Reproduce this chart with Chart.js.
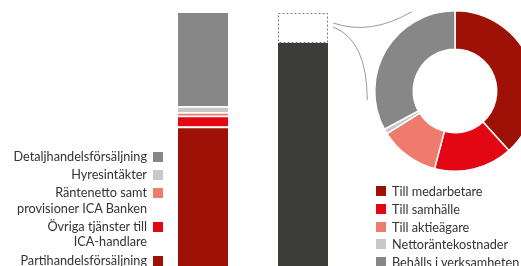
<!DOCTYPE html>
<html>
<head>
<meta charset="utf-8">
<script src="https://cdn.jsdelivr.net/npm/chart.js@4/dist/chart.umd.min.js"></script>
<style>
  html, body { margin: 0; padding: 0; background: #fff; }
  body { width: 521px; height: 266px; overflow: hidden; position: relative; font-family: 'Lato', 'Open Sans', sans-serif; color: #333; }
  canvas { position: absolute; left: 0; top: 0; }
  .legend { position: absolute; font-size: 12.7px; }
  #legL { right: 358px; top: 149px; line-height: 15.6px; }
  #legL .item { display: flex; justify-content: flex-end; align-items: flex-start; margin-bottom: 2.5px; }
  #legL .txt { text-align: right; white-space: nowrap; }
  #legL .sw { width: 10px; height: 10px; margin-left: 6px; margin-top: 3px; flex: none; }
  #legR { left: 376px; top: 183px; line-height: 17.8px; }
  #legR .item { display: flex; align-items: flex-start; white-space: nowrap; }
  #legR .sw { width: 10px; height: 10px; margin-right: 6px; margin-top: 3px; flex: none; }
</style>
</head>
<body>
<canvas id="bar" width="521" height="266"></canvas>
<canvas id="pie" width="600" height="266"></canvas>
<div id="legL" class="legend"></div>
<div id="legR" class="legend"></div>
<script>
// ---- data ----
const barCategories = ['Intäkter', 'Förädlingsvärde'];
const revenueLabels = [
  ['Partihandelsförsäljning'],
  ['Övriga tjänster till', 'ICA-handlare'],
  ['Räntenetto samt', 'provisioner ICA Banken'],
  ['Hyresintäkter'],
  ['Detaljhandelsförsäljning']
];
const revenueValues = [55.1, 4.3, 1.4, 2.4, 36.8];
const revenueColors = ['#9d1106', '#e30613', '#ee7b6b', '#c8c8c8', '#878787'];
const costValue = 88.1;
const valueAddedValue = 11.9;
const distLabels = ['Till medarbetare', 'Till samhälle', 'Till aktieägare', 'Nettoräntekostnader', 'Behålls i verksamheten'];
const distValues = [38.3, 15.8, 12.0, 1.0, 32.9];
const distColors = ['#9d1106', '#e30613', '#ee7b6b', '#c8c8c8', '#878787'];
const barMax = 105.1;

// ---- bar chart ----
const barDatasets = revenueValues.map((v, i) => ({
  label: revenueLabels[i].join(' '),
  data: [v, null],
  backgroundColor: revenueColors[i],
  borderColor: '#ffffff',
  borderWidth: i === revenueValues.length - 1 ? 0 : { top: 1.6, left: 0, right: 0, bottom: 0 },
  borderSkipped: 'start',
  stack: 's'
}));
barDatasets.push({ label: 'Kostnader', data: [null, costValue], backgroundColor: '#3c3c3b', borderWidth: 0, stack: 's' });
barDatasets.push({ label: 'Förädlingsvärde', data: [null, valueAddedValue], backgroundColor: 'rgba(0,0,0,0)', borderWidth: 0, stack: 's', isBox: true });

const dashedBox = {
  id: 'dashedBox',
  afterDatasetsDraw(chart) {
    const idx = chart.data.datasets.findIndex(d => d.isBox);
    const el = chart.getDatasetMeta(idx).data[1];
    if (!el) return;
    const ctx = chart.ctx;
    ctx.save();
    ctx.setLineDash([2, 2]);
    ctx.strokeStyle = '#7a7a7a';
    ctx.lineWidth = 1;
    const l = Math.round(el.x - el.width / 2) + 0.5, r = Math.round(el.x + el.width / 2) - 0.5;
    const t = Math.round(el.y) + 0.5, b = Math.round(el.base) - 0.5;
    ctx.strokeRect(l, t, r - l, b - t);
    ctx.restore();
  }
};

const barChart = new Chart(document.getElementById('bar'), {
  type: 'bar',
  data: { labels: barCategories, datasets: barDatasets },
  options: {
    responsive: false,
    animation: false,
    layout: { padding: { left: 153, right: 168, top: 0, bottom: 0 } },
    categoryPercentage: 0.5,
    barPercentage: 1,
    scales: {
      x: { display: false, stacked: true },
      y: { display: false, stacked: true, min: 0, max: barMax }
    },
    plugins: { legend: { display: false }, tooltip: { enabled: false } }
  },
  plugins: [dashedBox]
});

// ---- doughnut ----
const connectors = {
  id: 'connectors',
  afterDraw(chart) {
    const idx = barChart.data.datasets.findIndex(d => d.isBox);
    const box = barChart.getDatasetMeta(idx).data[1];
    const arc = chart.getDatasetMeta(0).data[0];
    if (!box || !arc) return;
    const cx = arc.x, cy = arc.y, R = arc.outerRadius;
    const sx = box.x + box.width / 2 + 5;
    const ctx = chart.ctx;
    ctx.save();
    ctx.strokeStyle = '#999999';
    ctx.lineWidth = 1;
    const a1 = -118.6 * Math.PI / 180;
    const s1 = { x: sx, y: box.y + 10 };
    const e1 = { x: cx + (R + 10) * Math.cos(a1), y: cy + (R + 10) * Math.sin(a1) };
    ctx.beginPath();
    ctx.moveTo(s1.x, s1.y);
    ctx.quadraticCurveTo(s1.x + 0.47 * (e1.x - s1.x), s1.y + 13, e1.x, e1.y);
    ctx.stroke();
    const a2 = 174 * Math.PI / 180;
    const s2 = { x: sx, y: box.y + 14 };
    const e2 = { x: cx + (R + 8) * Math.cos(a2), y: cy + (R + 8) * Math.sin(a2) };
    ctx.beginPath();
    ctx.moveTo(s2.x, s2.y);
    ctx.quadraticCurveTo(e2.x, s2.y + 13, e2.x, e2.y);
    ctx.stroke();
    ctx.restore();
  }
};

new Chart(document.getElementById('pie'), {
  type: 'doughnut',
  data: { labels: distLabels, datasets: [{ data: distValues, backgroundColor: distColors, borderColor: '#ffffff', borderWidth: 1.5 }] },
  options: {
    responsive: false,
    animation: false,
    cutout: '52%',
    layout: { padding: { left: 374, right: 64, top: 10, bottom: 94 } },
    plugins: { legend: { display: false }, tooltip: { enabled: false } }
  },
  plugins: [connectors]
});

// ---- legends ----
const legL = document.getElementById('legL');
for (let i = revenueLabels.length - 1; i >= 0; i--) {
  const it = document.createElement('div'); it.className = 'item';
  const tx = document.createElement('div'); tx.className = 'txt';
  tx.innerHTML = revenueLabels[i].join('<br>');
  const sw = document.createElement('div'); sw.className = 'sw'; sw.style.background = revenueColors[i];
  it.appendChild(tx); it.appendChild(sw); legL.appendChild(it);
}
const legR = document.getElementById('legR');
distLabels.forEach((l, i) => {
  const it = document.createElement('div'); it.className = 'item';
  const sw = document.createElement('div'); sw.className = 'sw'; sw.style.background = distColors[i];
  const tx = document.createElement('span'); tx.textContent = l;
  it.appendChild(sw); it.appendChild(tx); legR.appendChild(it);
});
</script>
</body>
</html>
